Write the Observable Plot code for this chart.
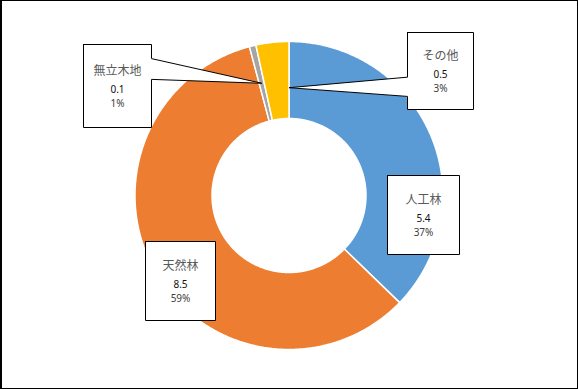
<!DOCTYPE html>
<html><head><meta charset="utf-8">
<script src="https://cdn.jsdelivr.net/npm/d3@7"></script>
<script src="https://cdn.jsdelivr.net/npm/@observablehq/plot@0.6"></script>
<style>
body{margin:0;background:#fff;}
#chart{position:relative;width:578px;height:389px;}
#chart svg{position:absolute;left:0;top:0;}
#frame{position:absolute;left:0;top:0;width:578px;height:389px;box-sizing:border-box;border:1px solid #000;border-left-width:2px;pointer-events:none;}
</style></head><body>
<div id="chart"><div id="frame"></div></div>
<script>
// ---- data ----
const categories = ["人工林", "天然林", "無立木地", "その他"];
const values = [5.4, 8.5, 0.1, 0.5];
const colors = ["#5B9BD5", "#ED7D31", "#A5A5A5", "#FFC000"];

// ---- layout (pixel units relative to the donut centre, y up) ----
const R = 154, R0 = 77;
const labelLayout = [
  {cx: 134.5, cy: -19.5, w: 72, h: 79, side: null},
  {cx: -108.5, cy: -85.5, w: 70, h: 79, side: null},
  {cx: -171.5, cy: 109.5, w: 68, h: 83, side: "right", b0: 0.17, b1: 0.42, tipFrac: 0.5, tipR: 0.75},
  {cx: 151.5, cy: 124.5, w: 66, h: 77, side: "left", b0: 0.58, b1: 0.83, tipFrac: 1.0, tipR: 0.70}
];

const total = d3.sum(values);
const arcs = d3.pie().sort(null).value(d => d)(values);
const polar = (r, a) => ({x: r * Math.sin(a), y: r * Math.cos(a)});

// slice polygons
const slicePts = [];
arcs.forEach((a, i) => {
  const name = categories[i];
  const n = Math.max(2, Math.ceil((a.endAngle - a.startAngle) / (Math.PI / 360)));
  const pts = [];
  for (let k = 0; k <= n; k++) pts.push(polar(R, a.startAngle + (a.endAngle - a.startAngle) * k / n));
  for (let k = n; k >= 0; k--) pts.push(polar(R0, a.startAngle + (a.endAngle - a.startAngle) * k / n));
  pts.push(pts[0]);
  pts.forEach(p => slicePts.push({...p, name}));
});

// callout shapes
const calloutPts = [];
const labels = [];
arcs.forEach((a, i) => {
  const L = labelLayout[i];
  const name = categories[i];
  const l = L.cx - L.w / 2, r = L.cx + L.w / 2, t = L.cy + L.h / 2, b = L.cy - L.h / 2;
  let pts;
  if (L.side === "right") {
    const tip = polar(L.tipR * R, a.startAngle + L.tipFrac * (a.endAngle - a.startAngle));
    pts = [{x: l, y: t}, {x: r, y: t}, {x: r, y: t - L.b0 * L.h}, tip, {x: r, y: t - L.b1 * L.h}, {x: r, y: b}, {x: l, y: b}, {x: l, y: t}];
  } else if (L.side === "left") {
    const tip = polar(L.tipR * R, a.startAngle + L.tipFrac * (a.endAngle - a.startAngle));
    pts = [{x: l, y: t}, {x: r, y: t}, {x: r, y: b}, {x: l, y: b}, {x: l, y: t - L.b1 * L.h}, tip, {x: l, y: t - L.b0 * L.h}, {x: l, y: t}];
  } else {
    pts = [{x: l, y: t}, {x: r, y: t}, {x: r, y: b}, {x: l, y: b}, {x: l, y: t}];
  }
  pts.forEach(p => calloutPts.push({...p, name}));
  labels.push({name, x: L.cx, y: L.cy, value: values[i].toFixed(1), pct: d3.format(".0%")(values[i] / total)});
});

const numFont = "'Noto Sans', sans-serif";
const chart = Plot.plot({
  width: 578,
  height: 389,
  marginLeft: 134.5,
  marginRight: 135.5,
  marginTop: 41,
  marginBottom: 40,
  style: {background: "transparent", fontFamily: "'Noto Sans CJK JP', 'Noto Sans', sans-serif"},
  x: {axis: null, domain: [-R, R]},
  y: {axis: null, domain: [-R, R]},
  color: {domain: categories, range: colors},
  marks: [
    Plot.line(slicePts, {x: "x", y: "y", z: "name", fill: "name", stroke: "white", strokeWidth: 1.5, curve: "linear"}),
    Plot.line(calloutPts, {x: "x", y: "y", z: "name", fill: "white", stroke: "black", strokeWidth: 1, curve: "linear", strokeLinejoin: "miter"}),
    Plot.text(labels, {x: "x", y: "y", text: "name", dy: -14.5, fontSize: 12, fill: "#595959"}),
    Plot.text(labels, {x: "x", y: "y", text: "value", dy: 3.5, fontSize: 10, fontFamily: numFont, fill: "#111"}),
    Plot.text(labels, {x: "x", y: "y", text: "pct", dy: 18, fontSize: 10, fontFamily: numFont, fill: "#404040"})
  ]
});
document.getElementById("chart").insertBefore(chart, document.getElementById("frame"));
</script>
</body></html>
